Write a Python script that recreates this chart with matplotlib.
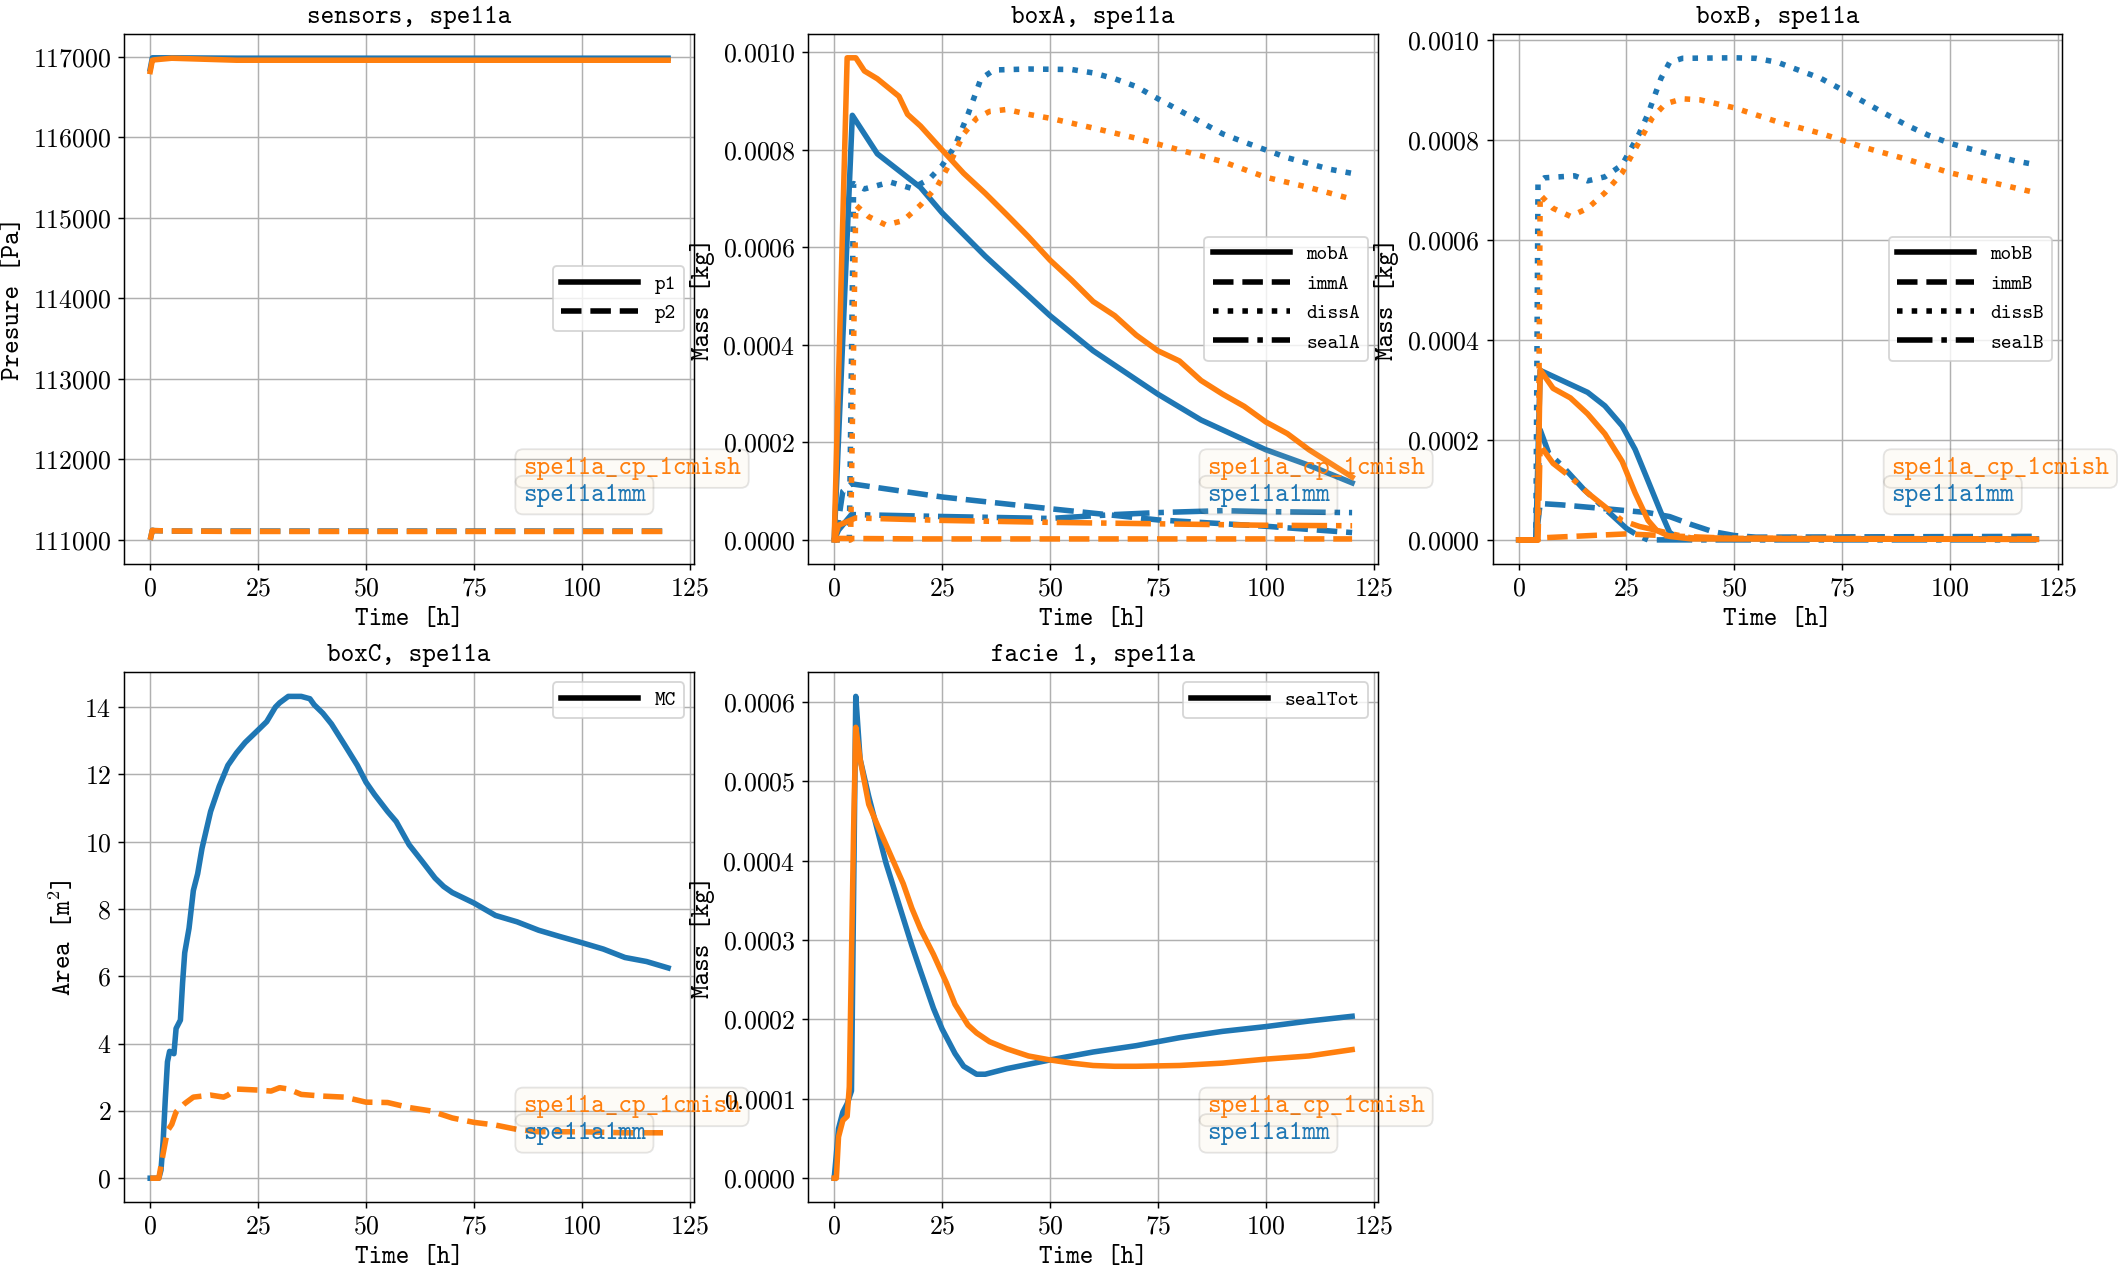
import numpy as np
import matplotlib
matplotlib.use("Agg")
import matplotlib.pyplot as plt

plt.rcParams['font.family'] = ['cmr10']
plt.rcParams['mathtext.fontset'] = 'cm'
plt.rcParams['axes.formatter.use_mathtext'] = True
plt.rcParams['axes.unicode_minus'] = False

TT = 'cmtt10'
BLUE = '#1f77b4'
ORANGE = '#ff7f0e'
cases = ['spe11a1mm', 'spe11a_cp_1cmish']

# ---- sensors (pressure, Pa)
t_p = [0, 0.5, 1, 5, 20, 60, 120]
p1_mm = [116850, 116990, 116990, 116990, 116985, 116985, 116985]
p1_cm = [116820, 116960, 116965, 116985, 116960, 116960, 116960]
p2_mm = [111000, 111120, 111115, 111110, 111110, 111110, 111110]
p2_cm = [111000, 111120, 111115, 111110, 111105, 111105, 111105]

# ---- boxA (kg)
tA_mob_mm = [0, 4.2, 10, 20, 25, 35, 50, 60, 75, 85, 100, 110, 120]
mobA_mm = [0, 0.000871, 0.000792, 0.000723, 0.000671, 0.000582, 0.00046, 0.000388,
           0.000299, 0.000246, 0.000185, 0.000153, 0.000117]
tA_mob_cm = [0, 3, 5, 7, 10, 15, 17, 20, 25, 30, 35, 40, 45, 50, 55, 60, 65, 70, 75,
             80, 85, 90, 95, 100, 105, 110, 115, 120]
mobA_cm = [0, 0.000989, 0.000989, 0.000962, 0.000946, 0.00091, 0.000873, 0.000849,
           0.0008, 0.000752, 0.000711, 0.000667, 0.000622, 0.000574, 0.000533,
           0.000489, 0.00046, 0.00042, 0.000388, 0.000367, 0.000327, 0.000299,
           0.000274, 0.000242, 0.000218, 0.000185, 0.000157, 0.000129]
tA_diss_mm = [0, 3.5, 4.5, 7, 13, 18, 22, 25, 28, 31, 34, 37, 45, 55, 60, 65, 70, 75,
              80, 85, 90, 95, 100, 105, 110, 115, 120]
dissA_mm = [0, 0, 0.000731, 0.00072, 0.000734, 0.000721, 0.00074, 0.000768, 0.000808,
            0.000873, 0.000946, 0.000964, 0.000966, 0.000965, 0.000958, 0.000946,
            0.00093, 0.000905, 0.000881, 0.000857, 0.000833, 0.000816, 0.0008,
            0.000784, 0.000772, 0.00076, 0.000752]
tA_diss_cm = [0, 3.8, 5, 8, 12, 16, 20, 24, 27, 30, 33, 36, 40, 45, 50, 60, 70, 80,
              90, 100, 110, 120]
dissA_cm = [0, 0, 0.000687, 0.000663, 0.000646, 0.000655, 0.000687, 0.000727,
            0.000776, 0.000833, 0.000865, 0.000879, 0.000883, 0.000873, 0.000865,
            0.000845, 0.000824, 0.0008, 0.000776, 0.000744, 0.000723, 0.000699]
tA_imm_mm = [0, 1, 2, 4, 25, 50, 75, 100, 120]
immA_mm = [0, 0.00004, 0.0001, 0.000115, 0.000088, 0.000064, 0.000041, 0.000028, 0.000015]
tA_imm_cm = [0, 1, 20, 60, 120]
immA_cm = [0, 0.000003, 0.000002, 0.000002, 0.000002]
tA_seal_mm = [0, 1, 4, 25, 50, 65, 75, 90, 100, 120]
sealA_mm = [0, 0.00002, 0.000052, 0.000048, 0.000044, 0.000052, 0.000056, 0.00006,
            0.000058, 0.000056]
tA_seal_cm = [0, 1, 5, 25, 50, 75, 100, 120]
sealA_cm = [0, 0.00003, 0.000045, 0.00004, 0.000036, 0.000033, 0.00003, 0.000029]

# ---- boxB (kg)
tB_mob_mm = [0, 4, 5, 8, 12, 16, 20, 24, 27, 30, 33, 35, 37, 60, 120]
mobB_mm = [0, 0, 0.000339, 0.000327, 0.000311, 0.000295, 0.000268, 0.000228,
           0.000181, 0.000118, 0.0000545, 0.000015, 0.000003, 0.000002, 0.000002]
tB_mob_cm = [0, 4.3, 5, 8, 12, 16, 20, 24, 27, 30, 32, 35, 40, 120]
mobB_cm = [0, 0, 0.00034, 0.000303, 0.000284, 0.000252, 0.000212, 0.000157,
           0.000094, 0.000039, 0.000019, 0.000007, 0.000002, 0.000001]
tB_diss_mm = [0, 4, 4.5, 6, 13, 16, 20, 24, 28, 30, 33, 35, 38, 50, 55, 60, 65, 70,
              75, 80, 85, 90, 95, 100, 105, 110, 115, 120]
dissB_mm = [0, 0, 0.000714, 0.000724, 0.000728, 0.000718, 0.000726, 0.00075,
            0.000813, 0.000852, 0.000923, 0.000955, 0.000963, 0.000964, 0.000963,
            0.000955, 0.000939, 0.000923, 0.0009, 0.000876, 0.000852, 0.000829,
            0.000809, 0.000793, 0.000781, 0.000769, 0.000758, 0.00075]
tB_diss_cm = [0, 4.5, 5, 8, 12, 16, 20, 24, 28, 31, 34, 38, 42, 50, 60, 70, 80, 90,
              100, 110, 120]
dissB_cm = [0, 0, 0.00069, 0.000663, 0.000647, 0.000663, 0.000694, 0.000734,
            0.000797, 0.000844, 0.000872, 0.000882, 0.00088, 0.000864, 0.000836,
            0.000813, 0.000785, 0.000761, 0.000734, 0.000714, 0.000694]
tB_imm_mm = [0, 4, 5, 10, 20, 30, 35, 40, 45, 50, 55, 120]
immB_mm = [0, 0, 0.0000727, 0.00007, 0.0000624, 0.0000545, 0.0000466, 0.0000308,
           0.0000166, 0.0000087, 0.0000055, 0.000007]
tB_imm_cm = [0, 4.5, 5, 25, 35, 50, 120]
immB_cm = [0, 0, 0.000004, 0.000012, 0.000008, 0.000003, 0.000002]
tB_seal_mm = [0, 4, 5, 7, 10, 15, 20, 25, 28, 30, 120]
sealB_mm = [0, 0, 0.00022, 0.000173, 0.000149, 0.000102, 0.0000624, 0.0000229,
            0.0000071, 0.0, 0.0]
tB_seal_cm = [0, 4.5, 5, 8, 12, 16, 20, 24, 28, 32, 36, 40, 120]
sealB_cm = [0, 0, 0.000189, 0.000153, 0.000126, 0.000094, 0.0000664, 0.0000387,
            0.0000269, 0.000019, 0.000011, 0.000004, 0.000001]

# ---- boxC (m^2)
tC_mm = [0, 2, 2.5, 3, 3.5, 4, 4.5, 5.5, 6, 7, 7.5, 8, 9, 10, 11, 12, 14, 16, 18, 20,
         22, 25, 27, 29, 30, 32, 35, 37, 38, 40, 42, 45, 48, 50, 52, 55, 57, 60, 63,
         66, 68, 70, 75, 80, 85, 90, 95, 100, 105, 110, 115, 120]
MC_mm = [0, 0, 0.24, 1.1, 2.35, 3.46, 3.77, 3.7, 4.45, 4.7, 5.8, 6.7, 7.43, 8.55,
         9.05, 9.8, 10.9, 11.65, 12.27, 12.64, 12.95, 13.32, 13.57, 14.0, 14.13,
         14.32, 14.32, 14.25, 14.07, 13.82, 13.5, 12.89, 12.27, 11.77, 11.4, 10.9,
         10.6, 9.91, 9.42, 8.92, 8.67, 8.49, 8.18, 7.81, 7.62, 7.37, 7.18, 7.0,
         6.81, 6.56, 6.44, 6.25]
tC_cm = [0, 2, 3, 4, 5, 6, 8, 10, 14, 17, 18, 20, 25, 28, 30, 32, 35, 40, 45, 50, 55,
         60, 65, 70, 75, 80, 85, 90, 100, 110, 120]
MC_cm = [0, 0, 0.73, 1.41, 1.6, 1.97, 2.22, 2.41, 2.47, 2.41, 2.47, 2.65, 2.62, 2.59,
         2.69, 2.65, 2.49, 2.44, 2.41, 2.26, 2.25, 2.1, 2.0, 1.79, 1.66, 1.58, 1.45,
         1.38, 1.38, 1.35, 1.35]

# ---- facie 1 (kg)
tF_mm = [0, 0.5, 1, 2, 3, 4, 5, 6, 8, 10, 12, 15, 18, 20, 23, 25, 28, 30, 33, 35, 40,
         50, 60, 70, 80, 90, 100, 110, 120]
seal_mm = [0, 0.00003, 0.0000623, 0.0000832, 0.0000937, 0.00011, 0.000607, 0.000528,
           0.000481, 0.000439, 0.000397, 0.000345, 0.000293, 0.000261, 0.000214,
           0.000188, 0.000157, 0.000141, 0.000131, 0.000131, 0.000138, 0.000149,
           0.000159, 0.000167, 0.000177, 0.000185, 0.000191, 0.000198, 0.000204]
tF_cm = [0, 0.5, 1, 2, 3, 3.5, 4.5, 5, 6, 8, 10, 13, 16, 18, 20, 23, 26, 28, 31, 33,
         36, 40, 45, 50, 55, 60, 65, 70, 80, 90, 100, 110, 120]
seal_cm = [0, 0, 0.000052, 0.0000728, 0.000078, 0.000115, 0.000439, 0.000568,
           0.000528, 0.000471, 0.000445, 0.000408, 0.000371, 0.00034, 0.000314,
           0.000282, 0.000246, 0.000219, 0.000193, 0.000183, 0.000172, 0.000163,
           0.000154, 0.000149, 0.000145, 0.000142, 0.000141, 0.000141, 0.000142,
           0.000145, 0.00015, 0.000154, 0.000162]

W, H = 2128, 1274
DPI = 133
fig = plt.figure(figsize=(W / DPI, H / DPI), dpi=DPI)


def box(l, t, r, b):
    return [l / W, 1 - b / H, (r - l) / W, (b - t) / H]


ax1 = fig.add_axes(box(124.3, 33.7, 694, 564))
ax2 = fig.add_axes(box(808.3, 33.7, 1378, 564))
ax3 = fig.add_axes(box(1492.7, 33.7, 2062.3, 564))
ax4 = fig.add_axes(box(124.3, 672.3, 694, 1202.3))
ax5 = fig.add_axes(box(808.3, 672.3, 1378, 1202.3))

LW = 3
styles = ['-', '--', ':', '-.']

ax1.plot(t_p, p1_mm, color=BLUE, ls='-', lw=LW)
ax1.plot(t_p, p2_mm, color=BLUE, ls='--', lw=LW)
ax1.plot(t_p, p1_cm, color=ORANGE, ls='-', lw=LW)
ax1.plot(t_p, p2_cm, color=ORANGE, ls='--', lw=LW)

for ax, series in [
    (ax2, [((tA_mob_mm, mobA_mm), (tA_mob_cm, mobA_cm)),
           ((tA_imm_mm, immA_mm), (tA_imm_cm, immA_cm)),
           ((tA_diss_mm, dissA_mm), (tA_diss_cm, dissA_cm)),
           ((tA_seal_mm, sealA_mm), (tA_seal_cm, sealA_cm))]),
    (ax3, [((tB_mob_mm, mobB_mm), (tB_mob_cm, mobB_cm)),
           ((tB_imm_mm, immB_mm), (tB_imm_cm, immB_cm)),
           ((tB_diss_mm, dissB_mm), (tB_diss_cm, dissB_cm)),
           ((tB_seal_mm, sealB_mm), (tB_seal_cm, sealB_cm))])]:
    for (mm, cm), ls in zip(series, styles):
        ax.plot(*mm, color=BLUE, ls=ls, lw=LW)
    for (mm, cm), ls in zip(series, styles):
        ax.plot(*cm, color=ORANGE, ls=ls, lw=LW)

ax4.plot(tC_mm, MC_mm, color=BLUE, ls='-', lw=LW)
ax4.plot(tC_cm, MC_cm, color=ORANGE, ls='--', lw=LW)

ax5.plot(tF_mm, seal_mm, color=BLUE, ls='-', lw=LW)
ax5.plot(tF_cm, seal_cm, color=ORANGE, ls='-', lw=LW)

titles = ['sensors, spe11a', 'boxA, spe11a', 'boxB, spe11a', 'boxC, spe11a',
          'facie 1, spe11a']
ylabels = ['Presure [Pa]', 'Mass [kg]', 'Mass [kg]', 'Area [m$^2$]', 'Mass [kg]']
legends = [(['p1', 'p2'], 'center right'),
           (['mobA', 'immA', 'dissA', 'sealA'], 'center right'),
           (['mobB', 'immB', 'dissB', 'sealB'], 'center right'),
           (['MC'], 'upper right'),
           (['sealTot'], 'upper right')]

for ax, title, yl, (labs, loc) in zip([ax1, ax2, ax3, ax4, ax5], titles, ylabels, legends):
    ax.set_title(title, fontfamily=TT, fontsize=14)
    ax.set_xlabel('Time [h]', fontfamily=TT, fontsize=14)
    ax.set_ylabel(yl, fontfamily=TT, fontsize=14)
    ax.tick_params(labelsize=14)
    ax.grid(True)
    ax.set_xticks([0, 25, 50, 75, 100, 125])
    handles = [plt.Line2D([], [], color='k', ls=ls, lw=LW) for ls in styles[:len(labs)]]
    ax.legend(handles, labs, loc=loc, prop={'family': TT, 'size': 11},
              handlelength=3.8)
    for i, (name, col) in enumerate([(cases[1], ORANGE), (cases[0], BLUE)]):
        ax.text(0.7, 0.18 - 0.05 * i, name, transform=ax.transAxes, color=col,
                fontfamily=TT, fontsize=14, va='center', ha='left',
                bbox=dict(boxstyle='round', facecolor='wheat', alpha=0.1))

ax1.ticklabel_format(axis='y', useOffset=False, style='plain')
ax1.set_yticks([111000, 112000, 113000, 114000, 115000, 116000, 117000])

fig.savefig('out.png', dpi=DPI)
